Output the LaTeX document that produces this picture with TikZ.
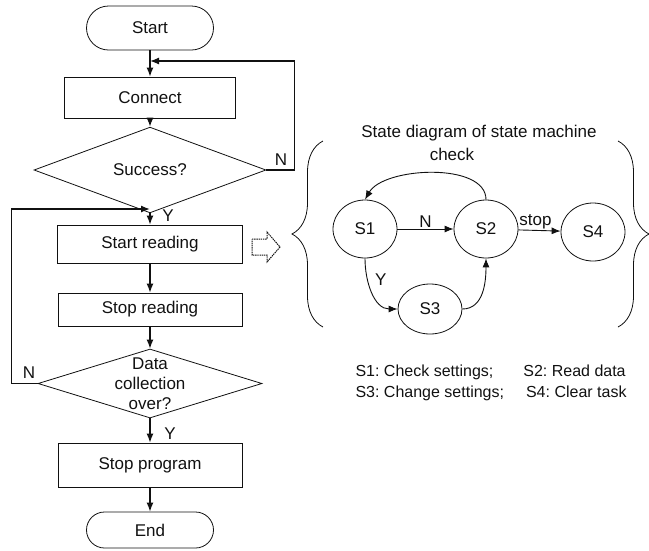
\documentclass[tikz,border=0pt]{standalone}
\usepackage{fontspec}
\setmainfont{Liberation Sans}
\usepackage{tikz}
\usetikzlibrary{arrows.meta,decorations.pathreplacing,shapes.geometric}
\definecolor{ink}{HTML}{111111}
\frenchspacing

\begin{document}
\begin{tikzpicture}[x=1pt,y=-1pt,
    every node/.style={font=\fontsize{17}{20}\selectfont,text=ink},
    term/.style={draw=ink,line width=0.8pt,rectangle,minimum width=127pt},
    proc/.style={draw=ink,line width=0.8pt,rectangle,minimum height=38pt},
    cond/.style={draw=ink,line width=0.8pt,diamond,inner sep=0pt,align=center},
    flow/.style={ink,line width=1.3pt,-{Latex[length=9pt,width=7pt]}},
    st/.style={draw=ink,line width=0.8pt,ellipse,minimum width=64pt,minimum height=58pt},
    sflow/.style={ink,line width=0.9pt,-{Latex[length=9pt,width=7pt]}},
    lbl/.style={inner sep=1pt}]
  \useasboundingbox (0,0) rectangle (649,550);
  % flow chart
  \node[term,minimum height=44pt,rounded corners=22pt] (start) at (150,28) {Start};
  \node[proc,minimum width=171pt,minimum height=41pt] (connect) at (150,97.5) {Connect};
  \node[cond,minimum width=232pt,minimum height=60pt] (success) at (150,170) {Success?};
  \node[proc,minimum width=185pt] (startrd) at (150,244) {Start reading};
  \node[proc,minimum width=184pt,minimum height=33pt] (stoprd) at (150,309.5) {Stop reading};
  \node[cond,minimum width=224pt,minimum height=69pt,
        label={[align=center]center:Data\\collection\\over?}] (over) at (150,383.5) {};
  \node[proc,minimum width=184pt,minimum height=44pt] (stopprg) at (150,465) {Stop program};
  \node[term,minimum height=36pt,rounded corners=18pt] (end) at (150,530) {End};
  \coordinate (j1) at (150,61);
  \coordinate (j2) at (150,209);
  \draw[flow] (start) -- (connect);
  \draw[flow] (connect) -- (success);
  \draw[flow] (success) -- (startrd);
  \draw[flow] (startrd) -- (stoprd);
  \draw[flow] (stoprd) -- (over);
  \draw[flow] (over) -- (stopprg);
  \draw[flow] (stopprg) -- (end);
  \draw[flow] (success.east) -- ++(28,0) |- (j1);
  \draw[flow] (over.west) -- ++(-26,0) |- (j2);
  \node[lbl] (n1) at (281,160) {N};
  \node[lbl] (n2) at (29,373) {N};
  \node[lbl] (y1) at (168,216) {Y};
  \node[lbl] (y2) at (170,434) {Y};
  % hollow arrow
  \draw[ink,line width=1pt,dash pattern=on 1.4pt off 0.8pt]
    (252,239) -- (267,239) -- (267,232) -- (280,247) -- (267,262) -- (267,255) -- (252,255) -- cycle;
  % state diagram
  \draw[ink,line width=0.8pt,decorate,decoration={brace,amplitude=31pt}] (323,327) -- (323,141);
  \draw[ink,line width=0.8pt,decorate,decoration={brace,amplitude=31pt}] (618,141) -- (618,327);
  \node (title) at (479,133) {State diagram of state machine};
  \node (title2) at (452,154) {check};
  \node[st] (s1) at (365,229) {S1};
  \node[st] (s2) at (486,229) {S2};
  \node[st] (s4) at (593,232) {S4};
  \node[st,minimum height=50pt] (s3) at (430,309) {S3};
  \draw[sflow] (s1) -- node[above,lbl] {N} (s2);
  \draw[sflow] (s2) -- node[above,lbl,xshift=-4pt] {stop} (s4);
  \draw[sflow] (s2.north) to[out=90,in=60,looseness=0.8] (s1.north);
  \draw[sflow] (s1.south) to[out=-90,in=180] node[lbl,pos=0.3,right=6pt] {Y} (s3.west);
  \draw[sflow] (s3.east) to[out=0,in=-90] (s2.south);
  \node[anchor=west,align=left,font=\fontsize{16}{21}\selectfont] (legend) at (352,383)
    {S1: Check settings;\hspace{30pt}S2: Read data\\S3: Change settings;\hspace{22pt}S4: Clear task};
\end{tikzpicture}
\end{document}
